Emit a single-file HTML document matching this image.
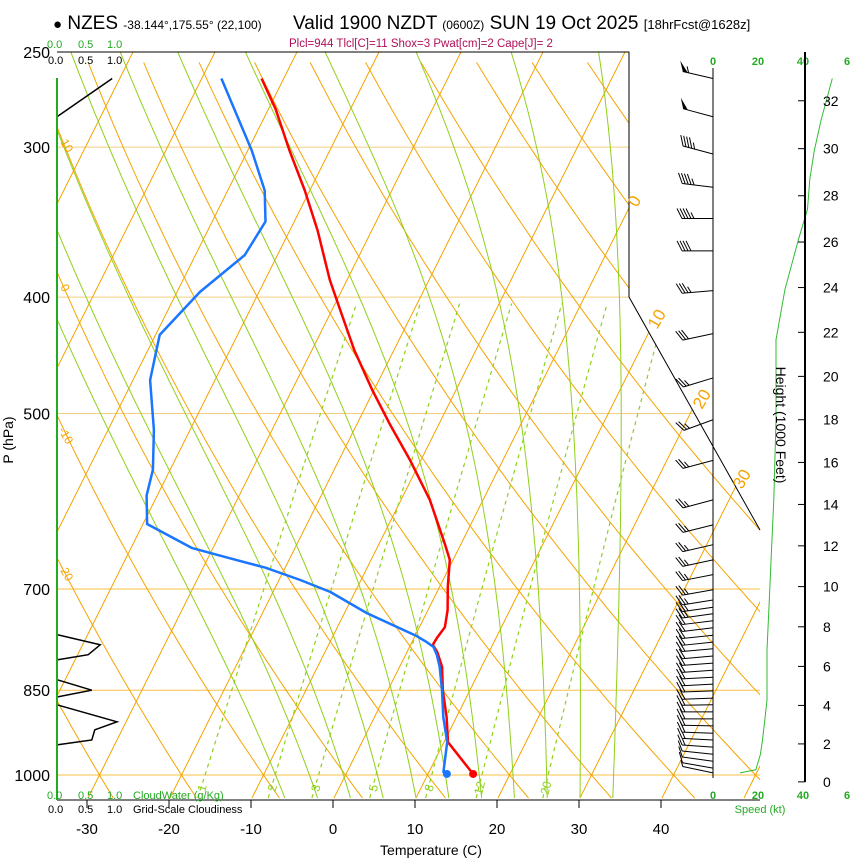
<!DOCTYPE html>
<html><head><meta charset="utf-8"><style>
body{margin:0;background:#fff;}
svg{display:block;font-family:"Liberation Sans",sans-serif;}
</style></head><body>
<svg id="chart" width="850" height="860" viewBox="0 0 850 860" xmlns="http://www.w3.org/2000/svg">
<defs><clipPath id="plotclip"><polygon points="57,52 629,52 629,297 760,530 760,800 57,800"/></clipPath></defs>
<rect x="0" y="0" width="850" height="860" fill="#fff"/>
<g id="grid" clip-path="url(#plotclip)"></g>
<g id="marks"></g>
<g id="frame">
<polyline points="57,52 629,52 629,297 760,530" fill="none" stroke="#000" stroke-width="1"/>
<line x1="57" y1="800" x2="760" y2="800" stroke="#000" stroke-width="1"/>
<line x1="57" y1="78" x2="57" y2="800" stroke="#22aa22" stroke-width="2"/>
</g>
<g id="texts">
<text x="53" y="29" font-size="19"><tspan font-size="15">●</tspan> NZES <tspan font-size="12">-38.144°,175.55° (22,100)</tspan></text>
<text x="293" y="29" font-size="19">Valid 1900 NZDT <tspan font-size="12">(0600Z)</tspan> SUN 19 Oct 2025 <tspan font-size="13">[18hrFcst@1628z]</tspan></text>
<text x="289" y="47" font-size="11.5" fill="#b0105a">Plcl=944 Tlcl[C]=11 Shox=3 Pwat[cm]=2 Cape[J]= 2</text>
<text transform="translate(13,440) rotate(-90)" font-size="14" text-anchor="middle">P (hPa)</text>
<text x="431" y="855" font-size="14" text-anchor="middle">Temperature (C)</text>
<text transform="translate(776,425) rotate(90)" font-size="14" text-anchor="middle">Height (1000 Feet)</text>
<g font-size="11" fill="#22aa22"><text x="47" y="48">0.0</text><text x="78" y="48">0.5</text><text x="107" y="48">1.0</text></g>
<g font-size="11" fill="#000"><text x="48" y="64">0.0</text><text x="78" y="64">0.5</text><text x="107" y="64">1.0</text></g>
<g font-size="11" fill="#22aa22"><text x="47" y="799">0.0</text><text x="78" y="799">0.5</text><text x="107" y="799">1.0</text><text x="133" y="799">CloudWater (g/Kg)</text></g>
<g font-size="11" fill="#000"><text x="48" y="813">0.0</text><text x="78" y="813">0.5</text><text x="107" y="813">1.0</text><text x="133" y="813">Grid-Scale Cloudiness</text></g>
<g font-size="11" fill="#22aa22" font-weight="bold" text-anchor="middle"><text x="713" y="65">0</text><text x="758" y="65">20</text><text x="803" y="65">40</text><text x="847" y="65">6</text></g>
<g font-size="11" fill="#22aa22" font-weight="bold" text-anchor="middle"><text x="713" y="799">0</text><text x="758" y="799">20</text><text x="803" y="799">40</text><text x="847" y="799">6</text></g>
<text x="760" y="813" font-size="11" fill="#22aa22" text-anchor="middle">Speed (kt)</text>
<g fill="#f5a300" font-size="17">
<text transform="translate(637,208) rotate(-60)">0</text>
<text transform="translate(657,330) rotate(-60)">10</text>
<text transform="translate(702,410) rotate(-60)">20</text>
<text transform="translate(742,490) rotate(-60)">30</text>
</g>
<g fill="#f5a300" font-size="12">
<text transform="translate(60,142) rotate(60)">10</text>
<text transform="translate(60,287) rotate(60)">0</text>
<text transform="translate(58,430) rotate(60)">-10</text>
<text transform="translate(58,567) rotate(60)">-20</text>
</g>
</g>
<g id="axes"></g>
<g id="barbs"></g>
</svg>
<script>
// ---- data ----
const tempP = [998,939,895,850,813,790,779,769,753,729,697,662,643,590,547,511,478,443,410,387,352,326,302,279,263];
const tempC = [15.5,10.5,8.8,6.7,5.2,3.7,2.7,2.8,3.1,2.4,1.0,-0.4,-1.9,-6.5,-11.3,-15.9,-20.2,-24.8,-29.0,-32.1,-36.6,-40.6,-44.9,-49.1,-52.7];
const dewP = [996,939,895,850,813,794,782,775,766,733,704,688,672,660,647,618,585,557,516,469,430,396,369,346,326,302,263];
const dewC = [11.8,10.4,8.4,6.6,4.9,3.8,2.9,1.8,0.2,-7.3,-13.0,-17.4,-22.4,-27.3,-32.6,-39.5,-41.3,-42.1,-44.4,-47.9,-49.5,-47.2,-44.0,-43.5,-45.5,-49.5,-57.6];
const sfcT = 15.5, sfcTd = 12.3, sfcP = 998;
const pressTicks = [250,300,400,500,700,850,1000];
const tempTicks = [-30,-20,-10,0,10,20,30,40];
const heightTicks = [0,2,4,6,8,10,12,14,16,18,20,22,24,26,28,30,32];
const mixRatios = [1,2,3,5,8,12,20];
const moistStarts = [-6,-2,2,6,10,14,18,22,26,30,34];
const barbP = [263,283,304,324,344,366,395,429,467,506,547,590,619,643,662,681,701,
  715,725,734,744,754,765,775,785,796,807,818,829,840,851,863,874,886,898,910,923,935,948,961,974,987,996];
const barbDir = [283,285,285,277,270,270,265,258,253,250,255,255,256,257,258,259,260,
  261,262,262,263,263,264,264,265,265,266,266,267,267,268,268,269,270,270,271,272,273,274,276,278,280,282];
const barbSpd = [55,52,45,45,45,42,35,30,25,25,28,28,27,26,26,25,25,
  25,25,25,24,24,24,24,24,23,23,23,23,23,22,22,22,22,21,21,20,18,16,14,12,10,8];
const spdP = [996,990,962,935,900,866,787,715,650,590,506,434,394,358,338,319,302,285,263];
const spdKt = [12,19,21,22,23,24,24,25,26,27,28,28,32,38,42,43,45,48,53];
const cloudSegP = [[283,263],[764,779,794,802],[833,850,861],[874,903,917,935,944]];
const cloudSegF = [[0,0.92],[0,0.72,0.52,0],[0,0.58,0],[0,1.0,0.63,0.58,0]];

// ---- scales ----
const NS='http://www.w3.org/2000/svg';
function yP(p){return 775-521.5*Math.log(1000/p);}
function xT(T,p){return 333+8.2*T+0.5*(800-yP(p));}
function xSpd(s){return 713+2.25*s;}
function xCloud(f){return 57+60*f;}
function mk(tag,attrs,parent){const e=document.createElementNS(NS,tag);for(const k in attrs)e.setAttribute(k,attrs[k]);parent.appendChild(e);return e;}
const grid=document.getElementById('grid'), marks=document.getElementById('marks'), axes=document.getElementById('axes'), barbs=document.getElementById('barbs');
const PB=1045, PT=250;
function pts(arr){return arr.map(a=>a[0].toFixed(1)+','+a[1].toFixed(1)).join(' ');}

pressTicks.forEach(p=>{
  const l=mk('line',{x1:57,x2:p<=400?629:760,y1:yP(p),y2:yP(p),stroke:p>=700?'#f7c045':'#f3cf80','stroke-width':1},grid);
  
  
  const t=mk('text',{x:50,y:yP(p)+6,'font-size':16,'text-anchor':'end'},axes);
  t.textContent=p;
  
  
});
for(let T=-120;T<=50;T+=10){
  const l=mk('line',{x1:xT(T,PB),y1:yP(PB),x2:xT(T,PT),y2:yP(PT),stroke:'#f5a300','stroke-width':1},grid);
  
  
}
for(let th=-50;th<=170;th+=10){
  const a=[];for(let p=PB;p>=PT;p-=10){const T=(th+273.15)*Math.pow(p/1000,0.286)-273.15;a.push([xT(T,p),yP(p)]);}
  const l=mk('polyline',{points:pts(a),fill:'none',stroke:'#f5a300','stroke-width':1},grid);
  
  
}
function es(T){return 6.112*Math.exp(17.67*T/(T+243.5));}
moistStarts.forEach(T0=>{
  let T=T0,p=PB;const a=[[xT(T,p),yP(p)]];
  while(p>PT){const Tk=T+273.15,e=es(T),rs=0.622*e/(p-e);
    const g=(287*Tk+2.5e6*rs)/(1005+2.5e6*2.5e6*rs*0.622/(287*Tk*Tk));
    const dl=-0.01;T+=g*dl;p=p*Math.exp(dl);a.push([xT(T,p),yP(p)]);}
  const l=mk('polyline',{points:pts(a),fill:'none',stroke:'#8fd01a','stroke-width':1},grid);
  
  
});
function tdW(w,p){const e=w*p/(622+w);const L=Math.log(e/6.112);return 243.5*L/(17.67-L);}
mixRatios.forEach(w=>{
  const a=[];for(let p=PB;p>=400;p-=10)a.push([xT(tdW(w,p),p),yP(p)]);
  const l=mk('polyline',{points:pts(a),fill:'none',stroke:'#8fd01a','stroke-width':1.2,'stroke-dasharray':'4,4'},grid);
  
  
  const lp=1019,x=xT(tdW(w,lp),lp);
  const t=mk('text',{transform:'translate('+(x+4)+',789) rotate(-75)','font-size':12,fill:'#8fd01a','text-anchor':'middle'},axes);
  t.textContent=w;
  
  
});
tempTicks.forEach(T=>{
  const x=333+8.2*T;
  const tk=mk('line',{x1:x,x2:x,y1:800,y2:808,stroke:'#000'},axes);
  
  
  const t=mk('text',{x:x,y:834,'font-size':15,'text-anchor':'middle'},axes);
  t.textContent=T;
  
  
});
const hax=mk('line',{x1:805,x2:805,y1:52,y2:782,stroke:'#000','stroke-width':2},axes);


heightTicks.forEach(h=>{
  const m=h*304.8,p=1013.25*Math.pow(1-6.5e-3*m/288.15,5.256);const y=yP(p);
  const tk=mk('line',{x1:798,x2:805,y1:y,y2:y,stroke:'#000'},axes);
  
  
  const t=mk('text',{x:823,y:y+5,'font-size':14},axes);
  t.textContent=h;
  
  
});
const sp=mk('polyline',{points:pts(spdP.map((p,i)=>[xSpd(spdKt[i]),yP(p)])),fill:'none',stroke:'#33bb33','stroke-width':1},marks);


cloudSegP.forEach((seg,i)=>{
  const c=mk('polyline',{points:pts(seg.map((p,j)=>[xCloud(cloudSegF[i][j]),yP(p)])),fill:'none',stroke:'#000','stroke-width':1.5},marks);
  
  
});
const tl=mk('polyline',{points:pts(tempP.map((p,i)=>[xT(tempC[i],p),yP(p)])),fill:'none',stroke:'#ff0000','stroke-width':2.5,'stroke-linejoin':'round'},marks);


const dl=mk('polyline',{points:pts(dewP.map((p,i)=>[xT(dewC[i],p),yP(p)])),fill:'none',stroke:'#1a75ff','stroke-width':2.5,'stroke-linejoin':'round'},marks);


const sd1=mk('circle',{cx:xT(sfcT,sfcP),cy:yP(sfcP),r:4,fill:'#ff0000'},marks);


const sd2=mk('circle',{cx:xT(sfcTd,sfcP),cy:yP(sfcP),r:4,fill:'#1a75ff'},marks);


const staff=mk('line',{x1:713,x2:713,y1:68,y2:778,stroke:'#000','stroke-width':1},barbs);


barbP.forEach((p,i)=>{
  const y=yP(p),L=31,r=barbDir[i]*Math.PI/180;
  const ux=Math.sin(r),uy=-Math.cos(r);
  const g=mk('g',{},barbs);
  
  
  const ex=713+L*ux,ey=y+L*uy;
  mk('line',{x1:713,y1:y,x2:ex,y2:ey,stroke:'#000','stroke-width':1},g);
  const px=-uy,py=ux;
  const fx=(ux*0.5+px),fy=(uy*0.5+py);
  let s=barbSpd[i],pos=0;
  while(s>=50){const bx=ex-ux*pos,by=ey-uy*pos;
    mk('polygon',{points:pts([[bx,by],[bx+fx*10,by+fy*10],[bx-ux*5,by-uy*5]]),fill:'#000'},g);pos+=6;s-=50;}
  while(s>=10){const bx=ex-ux*pos,by=ey-uy*pos;
    mk('line',{x1:bx,y1:by,x2:bx+fx*10,y2:by+fy*10,stroke:'#000','stroke-width':1},g);pos+=3;s-=10;}
  if(s>=5){const bx=ex-ux*pos,by=ey-uy*pos;
    mk('line',{x1:bx,y1:by,x2:bx+fx*6,y2:by+fy*6,stroke:'#000','stroke-width':1},g);}
});
</script>
</body></html>
